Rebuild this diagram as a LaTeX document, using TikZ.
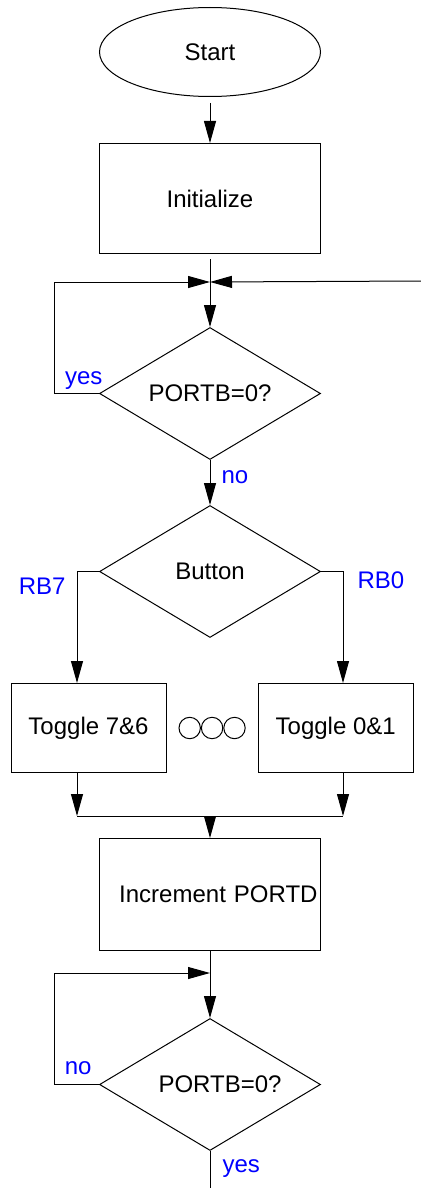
\documentclass[tikz,border=0pt]{standalone}
\usepackage{fontspec}
\setmainfont{Liberation Sans}
\usepackage{xcolor}
\usetikzlibrary{shapes.geometric, arrows.meta, positioning}

\begin{document}
\begin{tikzpicture}[
  x=0.5pt, y=-0.5pt,
  line width=0.5pt,
  font=\fontsize{12}{14}\selectfont,
  terminal/.style={ellipse, draw=black, minimum width=110.5pt, minimum height=44.5pt, inner sep=0pt},
  proc/.style={rectangle, draw=black, minimum width=110.5pt, minimum height=55pt, inner sep=1.5pt},
  toggle/.style={rectangle, draw=black, minimum width=77.5pt, minimum height=44.5pt, inner sep=1.5pt},
  decision/.style={diamond, draw=black, aspect=1.67, minimum width=110.5pt, minimum height=66pt, inner sep=0pt},
  ring/.style={circle, draw=black, minimum size=10.7pt, inner sep=0pt},
  lbl/.style={text=blue, inner sep=1pt},
  arr/.style={-{Triangle[length=11pt, width=6pt]}}
]
  \useasboundingbox (0,0) rectangle (420,1188);

  \node[terminal] (start) at (210,52) {Start};
  \node[proc, below=23pt of start] (init) {Initialize};
  \node[decision, below=36.5pt of init] (q1) {PORTB=0?};
  \node[decision, below=22.5pt of q1] (q2) {Button};

  \node[toggle, below=22.5pt of q2, xshift=-60.75pt] (t76) {Toggle 7\&6};
  \node[ring, right=6pt of t76] (d1) {};
  \node[ring, right=0pt of d1] (d2) {};
  \node[ring, right=0pt of d2] (d3) {};
  \node[toggle, right=6pt of d3] (t01) {Toggle 0\&1};

  \node[proc, below=100pt of q2, minimum height=56pt, text width=107.5pt, align=right] (inc) {Increment PORTD};
  \node[decision, below=33.5pt of inc] (q3) {\hspace*{10pt}PORTB=0?};

  \coordinate[above=22.5pt of q1.north] (jn1);
  \coordinate[above=11pt of inc.north] (jn2);
  \coordinate[below=11pt of inc.south] (jn3);
  \coordinate (back) at (422,281);
  \coordinate (out) at (210,1192);

  \draw[arr, shorten <=3pt] (start.south) -- (init.north);
  \draw[arr, shorten <=2.5pt] (init.south) -- (q1.north);
  \draw[arr] (q1.west) -- ++(-22.5pt,0pt) |- (jn1);
  \draw[arr] (back) -- (jn1);
  \draw[arr] (q1.south) -- (q2.north);

  \draw[arr] (q2.west) -- ++(-11pt,0pt) coordinate (b7) -- (b7 |- t76.north);
  \draw[arr] (q2.east) -- ++(11pt,0pt) coordinate (b0) -- (b0 |- t01.north);
  \draw[arr] (b7 |- t76.south) -- (b7 |- jn2);
  \draw[arr] (b0 |- t01.south) -- (b0 |- jn2);
  \draw (b7 |- jn2) -- (b0 |- jn2);
  \draw[arr] (jn2) -- (inc.north);

  \draw[arr] (inc.south) -- (q3.north);
  \draw[arr] (q3.west) -- ++(-22.5pt,0pt) |- (jn3);
  \draw (q3.south) -- (out);

  \node[lbl, above left=1pt and -3pt of q1.west] (yes1) {yes};
  \node[lbl, below right=4pt and 4.5pt of q1.south] (no1) {no};
  \node[lbl, below left=2pt and 4.5pt of b7] (rb7) {RB7};
  \node[lbl, below right=-1pt and 6pt of b0] (rb0) {RB0};
  \node[lbl, above left=3.5pt and 2.5pt of q3.west] (no3) {no};
  \node[lbl, below right=3pt and 5pt of q3.south] (yes3) {yes};
\end{tikzpicture}
\end{document}
